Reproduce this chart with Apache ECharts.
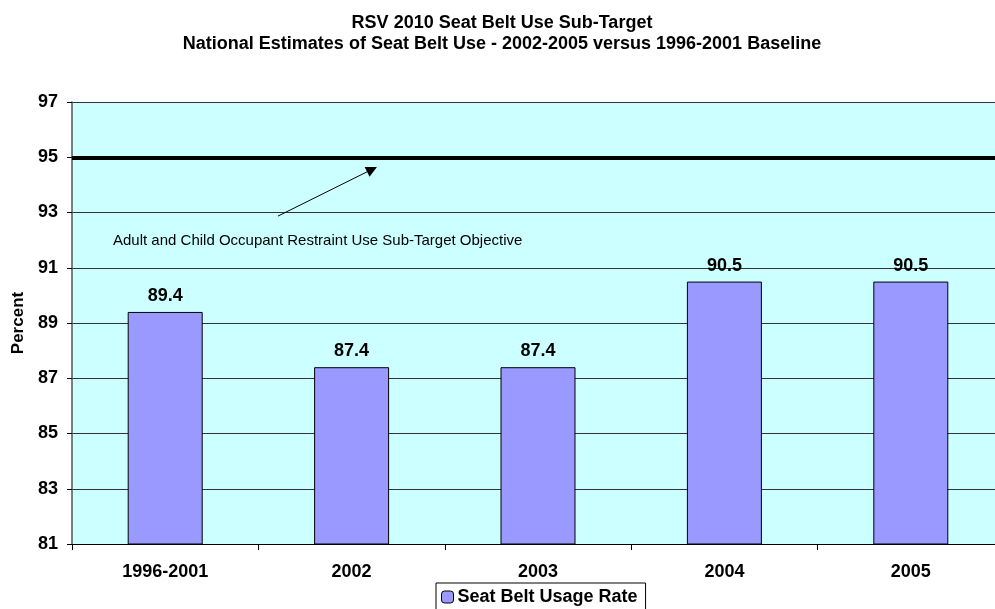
<!DOCTYPE html>
<html><head><meta charset="utf-8">
<script src="https://cdn.jsdelivr.net/npm/echarts@6/dist/echarts.min.js"></script>
<style>html,body{margin:0;padding:0;background:#fff;overflow:hidden;width:995px;height:609px}#c{width:1010px;height:609px}</style>
</head><body><div id="c"></div>
<script>
const categories = ['1996-2001','2002','2003','2004','2005'];
const usageRate = [89.4, 87.4, 87.4, 90.5, 90.5];
const targetValue = 95;
const yTicks = [81,83,85,87,89,91,93,95,97];
const annotationText = 'Adult and Child Occupant Restraint Use Sub-Target Objective';
// annotation positions in data space [fractional category index, value]
const arrowFrom = [0.605, 92.87];
const arrowTo = [1.136, 94.65];
const annotationAnchor = [-0.28, 91.97];

const FONT = '"Liberation Sans", Arial, sans-serif';
const chart = echarts.init(document.getElementById('c'));
chart.setOption({
  animation: false,
  backgroundColor: '#fff',
  title: {
    text: 'RSV 2010 Seat Belt Use Sub-Target\nNational Estimates of Seat Belt Use - 2002-2005 versus 1996-2001 Baseline',
    left: 497, textAlign: 'center', top: 7,
    textStyle: {fontFamily: FONT, fontSize: 18, fontWeight: 'bold', color: '#000', lineHeight: 21.5}
  },
  grid: {left: 72, top: 102, width: 932, height: 442, backgroundColor: '#CCFFFF', show: true, borderWidth: 0},
  legend: {
    data: ['Seat Belt Usage Rate'], left: 436, top: 583,
    itemWidth: 12, itemHeight: 12, itemGap: 4,
    padding: [5, 8, 5, 5],
    borderColor: '#000', borderWidth: 1, borderRadius: 0,
    textStyle: {fontFamily: FONT, fontSize: 18, fontWeight: 'bold', color: '#000', padding: [0,0,0,-1]},
    itemStyle: {borderColor: '#000', borderWidth: 1}
  },
  xAxis: {
    type: 'category', data: categories,
    axisLine: {lineStyle: {color: '#000', width: 1}},
    axisTick: {show: true, length: 6, inside: false, lineStyle: {color: '#000'}},
    axisLabel: {fontFamily: FONT, fontSize: 18, fontWeight: 'bold', color: '#000', margin: 19}
  },
  yAxis: {
    type: 'value', min: yTicks[0], max: yTicks[yTicks.length-1], interval: 2,
    name: 'Percent', nameLocation: 'middle', nameGap: 45, nameRotate: 90,
    nameTextStyle: {fontFamily: FONT, fontSize: 17, fontWeight: 'bold', color: '#000'},
    axisLine: {show: true, lineStyle: {color: '#555', width: 1.5}},
    axisTick: {show: true, length: 5, lineStyle: {color: '#000'}},
    axisLabel: {fontFamily: FONT, fontSize: 18, fontWeight: 'bold', color: '#000', margin: 14},
    splitLine: {show: true, lineStyle: {color: '#333', width: 1}}
  },
  series: [{
    name: 'Seat Belt Usage Rate', type: 'bar', data: usageRate, barWidth: 75,
    itemStyle: {color: '#9999FF', borderColor: '#000', borderWidth: 1},
    label: {show: true, position: 'top', distance: 7, fontFamily: FONT, fontSize: 18, fontWeight: 'bold', color: '#000',
      formatter: p => p.value.toFixed(1)},
    markLine: {
      silent: true, symbol: 'none',
      label: {show: false},
      lineStyle: {color: '#000', width: 4, type: 'solid'},
      data: [{yAxis: targetValue}]
    }
  }]
});
function toPx(pt) {
  const c0 = chart.convertToPixel({gridIndex: 0}, [0, pt[1]]);
  const c1 = chart.convertToPixel({gridIndex: 0}, [1, pt[1]]);
  return [c0[0] + pt[0] * (c1[0] - c0[0]), c0[1]];
}
const p1 = toPx(arrowFrom);
const p2 = toPx(arrowTo);
const pa = toPx(annotationAnchor);
const ang = Math.atan2(p2[1]-p1[1], p2[0]-p1[0]);
const hl = 11, hw = 5.5;
const bx = p2[0] - hl*Math.cos(ang), by = p2[1] - hl*Math.sin(ang);
const nx = -Math.sin(ang)*hw, ny = Math.cos(ang)*hw;
chart.setOption({
  graphic: [
    {type: 'line', shape: {x1: p1[0], y1: p1[1], x2: bx, y2: by}, style: {stroke: '#000', lineWidth: 1}, z: 100},
    {type: 'polygon', shape: {points: [[p2[0], p2[1]], [bx+nx, by+ny], [bx-nx, by-ny]]}, style: {fill: '#000'}, z: 100},
    {type: 'text', x: pa[0], y: pa[1], style: {text: annotationText, font: '15px ' + FONT, fill: '#000', textVerticalAlign: 'middle'}, z: 100}
  ]
});
</script></body></html>
